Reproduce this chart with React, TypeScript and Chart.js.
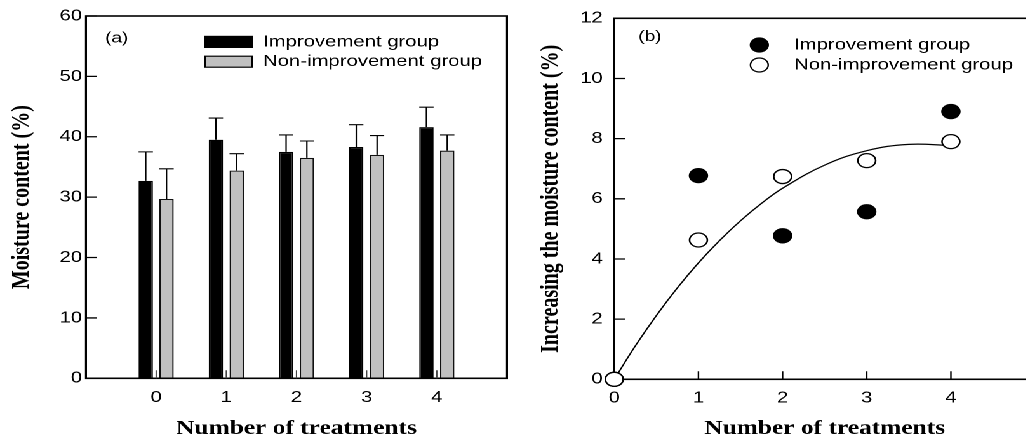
import React, { useEffect, useRef } from "react";
import { Chart, registerables } from "chart.js";

Chart.register(...registerables);

// ---------- data ----------
const treatments = [0, 1, 2, 3, 4];
const seriesLabels = ["Improvement group", "Non-improvement group"];

// Panel (a): moisture content (%) with upper error bars
const improvementMoisture = [32.7, 39.5, 37.5, 38.3, 41.6];
const improvementErr = [4.8, 3.6, 2.8, 3.7, 3.3];
const nonImprovementMoisture = [29.7, 34.4, 36.5, 37.0, 37.7];
const nonImprovementErr = [5.0, 2.8, 2.8, 3.2, 2.6];
const moistureTicks = [0, 10, 20, 30, 40, 50, 60];

// Panel (b): increase of moisture content (%)
const improvementIncrease = [0, 6.77, 4.77, 5.57, 8.9];
const nonImprovementIncrease = [0, 4.63, 6.74, 7.27, 7.9];
const fitX = [0, 0.25, 0.5, 0.75, 1, 1.25, 1.5, 1.75, 2, 2.5, 3, 3.5, 4];
const fitY = [0, 1.11, 2.12, 3.04, 3.87, 4.61, 5.27, 5.85, 6.35, 7.12, 7.6, 7.81, 7.77];
const increaseTicks = [0, 2, 4, 6, 8, 10, 12];

// ---------- style ----------
const STRETCH = 1.27;
const SANS = '"Liberation Sans", Arial, Helvetica, sans-serif';
const SERIF = '"Liberation Serif", "Times New Roman", Times, serif';

function drawFrame(chart: any, o: any) {
  const { ctx, chartArea: a, scales } = chart;
  ctx.save();
  ctx.strokeStyle = "#000";
  ctx.lineWidth = 1.6;
  ctx.strokeRect(a.left, a.top, a.right - a.left, a.bottom - a.top);
  ctx.lineWidth = 1.3;
  ctx.beginPath();
  o.yTicks.forEach((v: number) => {
    const py = scales.y.getPixelForValue(v);
    ctx.moveTo(a.left, py);
    ctx.lineTo(a.left + 8.4, py);
  });
  ctx.stroke();
  ctx.lineWidth = o.xTickWidth;
  ctx.strokeStyle = o.xTickColor;
  ctx.beginPath();
  o.xTicks.forEach((v: number) => {
    const px = scales.x.getPixelForValue(v);
    ctx.moveTo(px, a.bottom);
    ctx.lineTo(px, a.bottom - 8);
  });
  ctx.stroke();
  ctx.restore();
}

function drawErrorBars(chart: any) {
  const { ctx } = chart;
  ctx.save();
  ctx.strokeStyle = "#000";
  ctx.lineWidth = 1.1;
  chart.data.datasets.forEach((ds: any, di: number) => {
    if (!ds.errors) return;
    const meta = chart.getDatasetMeta(di);
    const yScale = chart.scales[meta.yAxisID];
    meta.data.forEach((el: any, i: number) => {
      const v = ds.data[i].y;
      const top = yScale.getPixelForValue(v + ds.errors[i]);
      const half = el.width / 2;
      ctx.beginPath();
      ctx.moveTo(el.x, el.y);
      ctx.lineTo(el.x, top);
      ctx.moveTo(el.x - half, top);
      ctx.lineTo(el.x + half, top);
      ctx.stroke();
    });
  });
  ctx.restore();
}

function drawLegend(chart: any, o: any) {
  const { ctx, chartArea: a } = chart;
  ctx.save();
  ctx.fillStyle = "#000";
  ctx.textBaseline = "middle";
  ctx.textAlign = "left";
  ctx.font = `15px ${SANS}`;
  ctx.fillText(o.panelLabel, a.left + o.labelDx, a.top + o.labelDy);
  ctx.font = `16px ${SANS}`;
  const items = chart.data.datasets.filter((d: any) => seriesLabels.includes(d.label));
  items.forEach((d: any, i: number) => {
    const cy = a.top + o.legendTop + i * o.legendGap;
    ctx.strokeStyle = "#000";
    ctx.lineWidth = 1.2;
    if (o.legendKind === "box") {
      const bx = a.left + o.markerDx;
      ctx.fillStyle = d.backgroundColor;
      ctx.fillRect(bx, cy - 5.5, 37.2, 11);
      ctx.strokeRect(bx, cy - 5.5, 37.2, 11);
    } else {
      ctx.beginPath();
      ctx.arc(a.left + o.markerDx, cy, 7, 0, Math.PI * 2);
      ctx.fillStyle = d.backgroundColor;
      ctx.fill();
      ctx.stroke();
    }
    ctx.fillStyle = "#000";
    ctx.fillText(d.label, a.left + o.textDx, cy);
  });
  ctx.restore();
}

function makeDecor(o: any) {
  return {
    id: "decor_" + o.name,
    beforeDatasetsDraw(chart: any) {
      if (!o.boxAbove) drawFrame(chart, o);
    },
    afterDatasetsDraw(chart: any) {
      drawErrorBars(chart);
      if (o.boxAbove) drawFrame(chart, o);
    },
    afterDraw(chart: any) {
      drawLegend(chart, o);
    },
  };
}

const tickFont = { family: SANS, size: 16 };
const titleFont = { family: SERIF, size: 20, weight: "bold" as const };

function fixX(h: number) {
  return (s: any) => {
    s.height = h;
    s.paddingLeft = 0;
    s.paddingRight = 0;
  };
}
function fixY(w: number) {
  return (s: any) => {
    s.width = w;
    s.paddingTop = 0;
    s.paddingBottom = 0;
  };
}

function leftConfig(): any {
  return {
    type: "bar",
    data: {
      datasets: [
        {
          label: seriesLabels[0],
          data: treatments.map((t, i) => ({ x: t, y: improvementMoisture[i] })),
          errors: improvementErr,
          backgroundColor: "#000000",
          borderColor: "#000000",
          borderWidth: 1.2,
          categoryPercentage: 0.593,
          barPercentage: 0.69,
        },
        {
          label: seriesLabels[1],
          data: treatments.map((t, i) => ({ x: t, y: nonImprovementMoisture[i] })),
          errors: nonImprovementErr,
          backgroundColor: "#c0c0c0",
          borderColor: "#111111",
          borderWidth: 1.2,
          categoryPercentage: 0.593,
          barPercentage: 0.69,
        },
      ],
    },
    options: {
      animation: false,
      responsive: false,
      devicePixelRatio: 2,
      layout: { autoPadding: false, padding: { top: 16, right: 10.8, left: 0, bottom: 0 } },
      plugins: { legend: { display: false }, tooltip: { enabled: false } },
      scales: {
        x: {
          type: "linear",
          min: -1,
          max: 5,
          offset: false,
          grid: { display: false, drawTicks: false },
          border: { display: false },
          ticks: {
            stepSize: 1,
            padding: 9.6,
            color: "#000",
            font: tickFont,
            callback: (v: any) => (treatments.includes(v) ? String(v) : ""),
          },
          title: {
            display: true,
            text: "Number of treatments",
            color: "#000",
            font: titleFont,
            padding: { top: 0, bottom: 0 },
          },
          afterFit: fixX(62.7),
        },
        y: {
          min: 0,
          max: 60,
          grid: { display: false, drawTicks: false },
          border: { display: false },
          ticks: { stepSize: 10, padding: 3, color: "#000", font: tickFont },
          title: {
            display: true,
            text: "Moisture content (%)",
            color: "#000",
            font: titleFont,
            padding: { top: 5.5, bottom: 0 },
          },
          afterFit: fixY(67.7),
        },
      },
    },
    plugins: [
      makeDecor({
        name: "a",
        boxAbove: true,
        yTicks: moistureTicks,
        xTicks: treatments,
        xTickWidth: 1,
        xTickColor: "#444",
        panelLabel: "(a)",
        labelDx: 15,
        labelDy: 22.5,
        legendKind: "box",
        legendTop: 25.9,
        legendGap: 19.8,
        markerDx: 93.7,
        textDx: 139.4,
      }),
    ],
  };
}

function rightConfig(): any {
  return {
    type: "scatter",
    data: {
      datasets: [
        {
          label: "fit",
          data: fitX.map((x, i) => ({ x, y: fitY[i] })),
          showLine: true,
          tension: 0.4,
          borderColor: "#000",
          borderWidth: 1.2,
          pointRadius: 0,
          fill: false,
          order: 3,
          clip: false,
        },
        {
          label: seriesLabels[0],
          data: treatments.map((t, i) => ({ x: t, y: improvementIncrease[i] })),
          backgroundColor: "#000000",
          borderColor: "#000000",
          borderWidth: 1.3,
          pointRadius: 7,
          order: 2,
          clip: false,
        },
        {
          label: seriesLabels[1],
          data: treatments.map((t, i) => ({ x: t, y: nonImprovementIncrease[i] })),
          backgroundColor: "#ffffff",
          borderColor: "#000000",
          borderWidth: 1.3,
          pointRadius: 7,
          order: 1,
          clip: false,
        },
      ],
    },
    options: {
      animation: false,
      responsive: false,
      devicePixelRatio: 2,
      layout: { autoPadding: false, padding: { top: 18.3, right: 0, left: 0, bottom: 0 } },
      plugins: { legend: { display: false }, tooltip: { enabled: false } },
      scales: {
        x: {
          type: "linear",
          min: 0,
          max: 5,
          grid: { display: false, drawTicks: false },
          border: { display: false },
          ticks: {
            stepSize: 1,
            padding: 9.4,
            color: "#000",
            font: tickFont,
            callback: (v: any) => (treatments.includes(v) ? String(v) : ""),
          },
          title: {
            display: true,
            text: "Number of treatments",
            color: "#000",
            font: titleFont,
            padding: { top: 0, bottom: 0 },
          },
          afterFit: fixX(61.7),
        },
        y: {
          min: 0,
          max: 12,
          grid: { display: false, drawTicks: false },
          border: { display: false },
          ticks: { stepSize: 2, padding: 9, color: "#000", font: tickFont },
          title: {
            display: true,
            text: "Increasing the moisture content (%)",
            color: "#000",
            font: titleFont,
            padding: { top: 11.8, bottom: 0 },
          },
          afterFit: fixY(73.7),
        },
      },
    },
    plugins: [
      makeDecor({
        name: "b",
        boxAbove: false,
        yTicks: increaseTicks,
        xTicks: treatments,
        xTickWidth: 1.2,
        xTickColor: "#000",
        panelLabel: "(b)",
        labelDx: 18.9,
        labelDy: 18.7,
        legendKind: "circle",
        legendTop: 26.7,
        legendGap: 20,
        markerDx: 114.2,
        textDx: 141.5,
      }),
    ],
  };
}

export default function App() {
  const leftRef = useRef<HTMLCanvasElement>(null);
  const rightRef = useRef<HTMLCanvasElement>(null);

  useEffect(() => {
    const c1 = new Chart(leftRef.current as HTMLCanvasElement, leftConfig());
    const c2 = new Chart(rightRef.current as HTMLCanvasElement, rightConfig());
    return () => {
      c1.destroy();
      c2.destroy();
    };
  }, []);

  return (
    <div
      style={{
        position: "fixed",
        left: 0,
        top: 0,
        width: 1026,
        height: 441,
        overflow: "hidden",
        background: "#fff",
      }}
    >
      <div
        style={{
          display: "flex",
          width: 815,
          height: 441,
          transform: `scaleX(${STRETCH})`,
          transformOrigin: "0 0",
        }}
      >
        <canvas ref={leftRef} width={410} height={441} style={{ display: "block", width: 410, height: 441 }} />
        <canvas ref={rightRef} width={405} height={441} style={{ display: "block", width: 405, height: 441 }} />
      </div>
    </div>
  );
}
